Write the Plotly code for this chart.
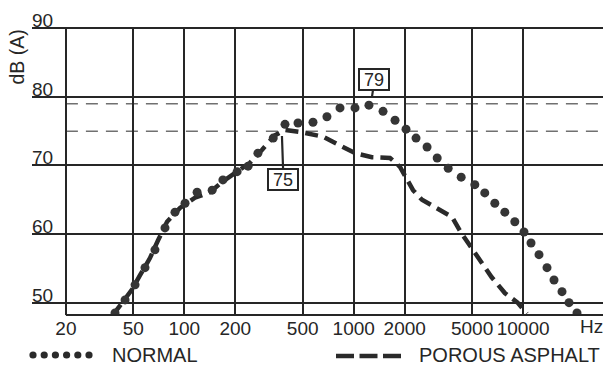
import math
import plotly.graph_objects as go

# ---------------- data ----------------
freq_normal = [39, 44.7, 51.2, 58.6, 67.1, 76.9, 88.1, 101, 119, 146, 169, 205, 238, 272,
               335, 393, 469, 575, 695, 830, 1018, 1230, 1490, 1754, 2036, 2333, 2710, 3110,
               3612, 4310, 5188, 5940, 6808, 7800, 8934, 10120, 11136, 12414, 13840, 15220,
               16970, 18660, 20800]
db_normal = [48.5, 50.4, 52.6, 55.1, 57.7, 60.9, 63.2, 64.5, 66.1, 66.4, 67.9, 69.1, 69.9, 71.8,
             74.0, 76.0, 76.2, 76.3, 77.1, 78.4, 78.4, 78.8, 77.9, 76.6, 75.3, 74.0, 72.7, 71.1,
             69.6, 68.3, 67.2, 66.0, 64.5, 63.2, 61.8, 60.3, 58.7, 57.0, 55.1, 53.3,
             51.6, 50.0, 48.5]

freq_porous = [37.9, 42.9, 49.1, 54.8, 62.7, 70.0, 79.1, 94.3, 115.6, 141.8, 167, 205, 244, 288,
               343, 393, 482, 659, 865, 1018, 1282, 1638, 1876, 2033, 2240, 2530, 3110, 3804,
               4300, 4852, 5544, 6526, 7800, 9278, 10520]
db_porous = [48.2, 50.0, 51.9, 54.0, 56.5, 59.1, 61.8, 63.8, 65.3, 66.1, 67.6, 69.1, 70.4, 72.3,
             74.4, 75.2, 74.9, 74.2, 72.7, 71.8, 71.2, 71.1, 69.8, 68.3, 66.4, 65.0, 63.8, 62.5,
             60.2, 58.4, 56.2, 53.7, 51.4, 50.0, 48.4]

x_tick_vals = [20, 50, 100, 200, 500, 1000, 2000, 5000, 10000]
x_tick_text = ["20", "50", "100", "200", "500", "1000", "2000", "5000", "10000"]
y_tick_vals = [50, 60, 70, 80, 90]
y_tick_text = ["50", "60", "70", "80", "90"]
ref_levels = [79, 75]

annot_text = ["79", "75"]
annot_freq = [1282, 377]
annot_db = [80, 74.3]
annot_ax = [2.5, 1.5]
annot_ay = [-17, 43]

legend_labels = ["NORMAL", "POROUS ASPHALT"]

# ---------------- layout geometry ----------------
W, H = 606, 366
L, R, T, B = 32, 603, 27.3, 315
PX_PER_DEC = 169.4
X20_PX = 65.9
x_lo = math.log10(20) - (X20_PX - L) / PX_PER_DEC
x_hi = math.log10(20) + (R - X20_PX) / PX_PER_DEC
y_lo, y_hi = 48.2, 90.15

def px(x):
    return x / W

def py(y):
    return 1 - y / H

FONT = "Liberation Sans, Arial, Helvetica, sans-serif"
INK = "#262626"

fig = go.Figure()

fig.add_trace(go.Scatter(
    x=freq_porous, y=db_porous, mode="lines",
    line=dict(color="#2a2a2a", width=4.5, dash="13px,7px"),
    hoverinfo="skip", showlegend=False))

fig.add_trace(go.Scatter(
    x=freq_normal, y=db_normal, mode="markers",
    marker=dict(color="#353535", size=9, line=dict(width=0)),
    hoverinfo="skip", showlegend=False))

shapes = []
# reference dashed levels
for lv in ref_levels:
    shapes.append(dict(type="line", xref="x", yref="y", x0=20, x1=10 ** x_hi, y0=lv, y1=lv,
                       line=dict(color="#707070", width=1.4, dash="12px,8px"), layer="below"))
# bottom border from 20 Hz to the right edge
shapes.append(dict(type="line", xref="x", yref="paper", x0=20, x1=10 ** x_hi,
                   y0=py(B), y1=py(B), line=dict(color=INK, width=2)))

# legend symbols
for i in range(6):
    cx = 33 + i * 11.2
    shapes.append(dict(type="circle", xref="paper", yref="paper",
                       xsizemode="pixel", ysizemode="pixel",
                       xanchor=px(cx), yanchor=py(355),
                       x0=-3.6, x1=3.6, y0=-3.6, y1=3.6,
                       fillcolor="#2a2a2a", line=dict(width=0)))
for i in range(3):
    x0 = 336 + i * 23.5
    shapes.append(dict(type="line", xref="paper", yref="paper",
                       x0=px(x0), x1=px(x0 + 18), y0=py(356), y1=py(356),
                       line=dict(color="#2a2a2a", width=4.5)))

annotations = []
# y tick labels above the lines
for v, t in zip(y_tick_vals, y_tick_text):
    annotations.append(dict(x=px(L), xref="paper", y=v, yref="y", text=t, showarrow=False,
                            xanchor="left", yanchor="bottom", xshift=-2, yshift=-5,
                            font=dict(family=FONT, size=19, color=INK)))
# axis titles
annotations.append(dict(x=px(16.5), y=py(57), xref="paper", yref="paper", text="dB (A)",
                        textangle=-90, showarrow=False, xanchor="center", yanchor="middle",
                        font=dict(family=FONT, size=19.5, color=INK)))
annotations.append(dict(x=px(605), y=py(326), xref="paper", yref="paper", text="Hz",
                        showarrow=False, xanchor="right", yanchor="middle",
                        font=dict(family=FONT, size=19, color=INK)))
# boxed peak labels
for t, f, d, ax, ay in zip(annot_text, annot_freq, annot_db, annot_ax, annot_ay):
    annotations.append(dict(x=math.log10(f), y=d, xref="x", yref="y", text=t,
                            showarrow=True, arrowhead=0, arrowwidth=2.2, arrowcolor=INK,
                            ax=ax, ay=ay, bordercolor=INK, borderwidth=2, borderpad=1,
                            bgcolor="white", width=26, height=17,
                            font=dict(family=FONT, size=18, color=INK)))
# legend texts
annotations.append(dict(x=px(110), y=py(355), xref="paper", yref="paper", text=legend_labels[0],
                        showarrow=False, xanchor="left", yanchor="middle",
                        font=dict(family=FONT, size=20, color=INK)))
annotations.append(dict(x=px(417), y=py(355), xref="paper", yref="paper", text=legend_labels[1],
                        showarrow=False, xanchor="left", yanchor="middle",
                        font=dict(family=FONT, size=20, color=INK)))

fig.update_layout(
    width=W, height=H,
    margin=dict(l=0, r=0, t=0, b=0),
    paper_bgcolor="white", plot_bgcolor="white",
    showlegend=False,
    xaxis=dict(type="log", range=[x_lo, x_hi], domain=[px(L), px(R)],
               tickvals=x_tick_vals, ticktext=x_tick_text, ticks="",
               showgrid=True, gridcolor=INK, gridwidth=1.7,
               showline=False, zeroline=False,
               tickfont=dict(family=FONT, size=19, color=INK)),
    yaxis=dict(range=[y_lo, y_hi], domain=[py(B), py(T)],
               tickvals=y_tick_vals, showticklabels=False, ticks="",
               showgrid=True, gridcolor=INK, gridwidth=1.8,
               showline=False, zeroline=False),
    shapes=shapes,
    annotations=annotations,
)

fig.write_html("out.html")
